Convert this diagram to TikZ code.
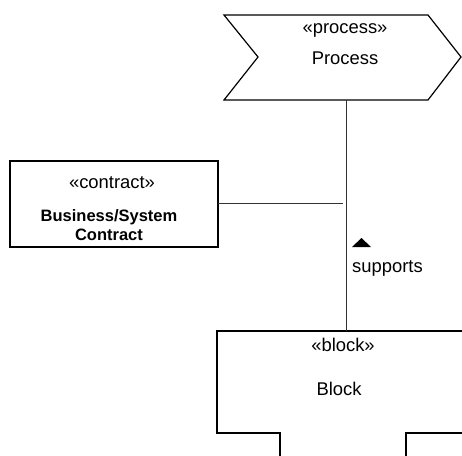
\documentclass[tikz,border=0pt]{standalone}
\usepackage{fontspec}
\setmainfont{Liberation Sans}
\begin{document}
\begin{tikzpicture}[x=1pt,y=-1pt,
  shapeline/.style={draw=black,line width=1.2pt},
  conn/.style={draw=black!80,line width=0.8pt},
  txt/.style={inner sep=0pt,font=\fontsize{18.4}{20}\selectfont},
  boldtxt/.style={inner sep=0pt,align=center,font=\fontsize{16.5}{19}\selectfont\bfseries}]
\useasboundingbox (0,0) rectangle (462,455);
% process chevron
\draw[shapeline] (224,15) -- (428,15) -- (461,57) -- (428,100) -- (224,100) -- (258,57) -- cycle;
\node[txt] (procst) at (345,30) {«process»};
\node[txt] (procname) at (345,58) {Process};
\coordinate (procbot) at (346,100);
% contract box
\draw[shapeline] (10,161) rectangle (218,247);
\node[txt] (contst) at (112,183) {«contract»};
\node[boldtxt] (contname) at (109,225) {Business/System\\Contract};
\coordinate (contright) at (218,203);
\coordinate (contend) at (343,203);
% block
\draw[shapeline] (462,331) -- (217,331) -- (217,433) -- (280,433) -- (280,456);
\draw[shapeline] (406,456) -- (406,433) -- (462,433);
\node[txt] (blockst) at (343,345) {«block»};
\node[txt] (blockname) at (339,389) {Block};
\coordinate (blocktop) at (346,331);
% connectors
\draw[conn] (procbot) -- (blocktop);
\draw[conn] (contright) -- (contend);
\fill (352,247) -- (371,247) -- (361.5,238) -- cycle;
\node[txt,anchor=west] (supports) at (352,268) {supports};
\end{tikzpicture}
\end{document}
